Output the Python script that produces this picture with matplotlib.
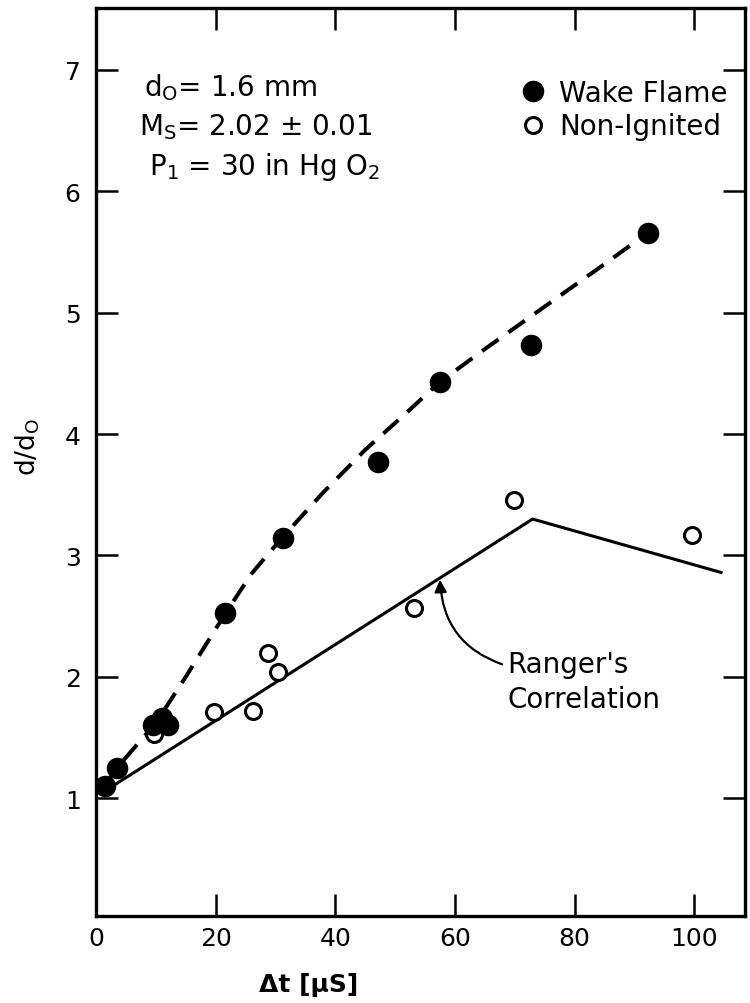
import matplotlib
matplotlib.use("Agg")
import matplotlib.pyplot as plt

# ---- data ----
wake_x = [1.5, 3.5, 9.5, 11.0, 12.0, 21.6, 31.2, 47.2, 57.5, 72.8, 92.3]
wake_y = [1.10, 1.25, 1.60, 1.66, 1.60, 2.53, 3.14, 3.77, 4.43, 4.73, 5.66]

nonig_x = [9.7, 19.8, 26.2, 28.7, 30.4, 53.2, 69.8, 99.7]
nonig_y = [1.53, 1.71, 1.72, 2.20, 2.04, 2.57, 3.46, 3.17]

# dashed trend curve through the wake-flame data
curve_x = [1.5, 3.5, 7, 10, 15, 21.6, 26, 31, 38, 45, 52, 57.5, 65, 75, 85, 92.3]
curve_y = [1.10, 1.25, 1.45, 1.62, 2.00, 2.52, 2.85, 3.14, 3.52, 3.87, 4.18, 4.43, 4.70, 5.05, 5.40, 5.66]

# Ranger's correlation (solid)
ranger_x = [1.5, 73.0, 104.5]
ranger_y = [1.06, 3.30, 2.86]

xticks = [0, 20, 40, 60, 80, 100]
yticks = [1, 2, 3, 4, 5, 6, 7]

plt.rcParams['font.family'] = ['DejaVu Sans']

fig = plt.figure(figsize=(7.5, 10.04), dpi=100)
ax = fig.add_axes([96/750, 1 - 917/1004, 649/750, 908/1004])

ax.plot(curve_x, curve_y, color='black', lw=2.9, dashes=(5, 3), zorder=2)
ax.plot(ranger_x, ranger_y, color='black', lw=2.2, zorder=2)

ax.plot(wake_x, wake_y, 'o', color='black', ms=14.5, zorder=4, label='Wake Flame')
ax.plot(nonig_x, nonig_y, 'o', mfc='white', mec='black', mew=2.2, ms=11.5, zorder=3,
        label='Non-Ignited')

ax.set_xlim(0, 108.5)
ax.set_ylim(0.03, 7.51)
ax.set_xticks(xticks)
ax.set_yticks(yticks)
ax.tick_params(direction='in', length=16, width=1.8, top=True, right=True,
               labelsize=18)
ax.tick_params(axis='y', pad=11)
ax.tick_params(axis='x', pad=7)
for s in ax.spines.values():
    s.set_linewidth(2.4)

ax.set_xlabel('Δt [μS]', fontsize=18, fontweight='bold')
ax.xaxis.set_label_coords(0.327, -0.062)
ax.set_ylabel(r'd/d$_\mathregular{O}$', fontsize=19, va='center')
ax.yaxis.set_label_coords(-0.105, 0.518)

fs = 20
ax.text(8.0, 6.79, r'd$_\mathregular{O}$= 1.6 mm', fontsize=fs, va='baseline')
ax.text(7.2, 6.47, r'M$_\mathregular{S}$= 2.02 ± 0.01', fontsize=fs, va='baseline')
ax.text(8.9, 6.14, r'P$_\mathregular{1}$ = 30 in Hg O$_\mathregular{2}$', fontsize=fs, va='baseline')

ax.legend(loc='upper left', bbox_to_anchor=(0.652, 0.922), frameon=False,
          fontsize=fs, numpoints=1, handlelength=1.0, handletextpad=0.45,
          borderpad=0, borderaxespad=0, labelspacing=0.2)

ax.annotate("Ranger's\nCorrelation", xy=(57.5, 2.80), xytext=(68.8, 1.96),
            fontsize=fs, ha='left', va='center', linespacing=1.3,
            arrowprops=dict(arrowstyle='-|>', color='black', lw=1.6,
                            mutation_scale=18,
                            connectionstyle='arc3,rad=-0.35',
                            shrinkA=2, shrinkB=0,
                            relpos=(0.0, 0.75)))

fig.savefig('out.png', dpi=100)
